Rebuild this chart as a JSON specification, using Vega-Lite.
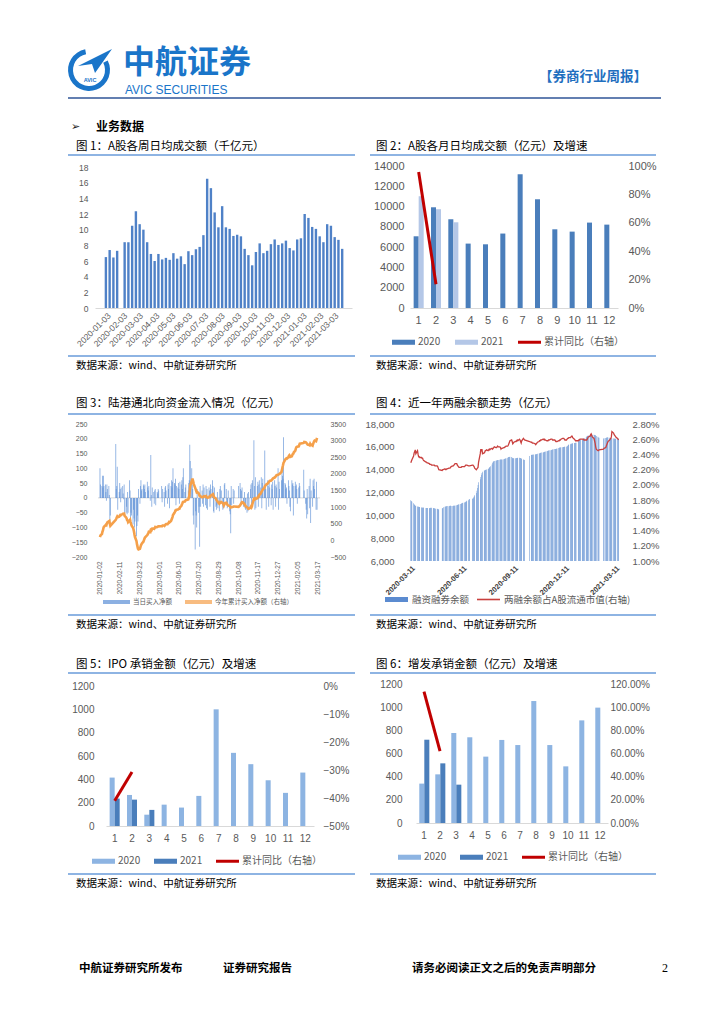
{
"$schema":"https://vega.github.io/schema/vega-lite/v6.json",
"width":724,"height":1024,"autosize":{"type":"none"},"padding":0,"background":"white",
"config":{"view":{"stroke":null},"axis":{"grid":false,"ticks":false,"domain":false,"labelColor":"#595959","labelFont":"Liberation Sans"},"legend":{"padding":0,"symbolStrokeWidth":0,"labelFont":"Noto Sans CJK SC","labelColor":"#595959","orient":"none","direction":"horizontal"},"text":{"font":"Noto Sans CJK SC"}},
"datasets":{
"c1":[{"d":"2020-01-03","v":6.5},{"d":"2020-01-10","v":7.4},{"d":"2020-01-17","v":6.45},{"d":"2020-01-24","v":7.3},{"d":"2020-02-07","v":8.4},{"d":"2020-02-14","v":8.4},{"d":"2020-02-21","v":10.5},{"d":"2020-02-28","v":12.35},{"d":"2020-03-06","v":10.7},{"d":"2020-03-13","v":10.0},{"d":"2020-03-20","v":8.4},{"d":"2020-03-27","v":6.9},{"d":"2020-04-03","v":6.0},{"d":"2020-04-10","v":6.9},{"d":"2020-04-17","v":6.2},{"d":"2020-04-24","v":6.4},{"d":"2020-05-01","v":6.15},{"d":"2020-05-08","v":7.0},{"d":"2020-05-15","v":6.3},{"d":"2020-05-22","v":6.6},{"d":"2020-05-29","v":5.6},{"d":"2020-06-05","v":7.25},{"d":"2020-06-12","v":6.75},{"d":"2020-06-19","v":7.5},{"d":"2020-06-26","v":7.8},{"d":"2020-07-03","v":9.3},{"d":"2020-07-10","v":16.5},{"d":"2020-07-17","v":15.3},{"d":"2020-07-24","v":12.2},{"d":"2020-07-31","v":10.3},{"d":"2020-08-07","v":13.0},{"d":"2020-08-14","v":10.3},{"d":"2020-08-21","v":10.1},{"d":"2020-08-28","v":9.2},{"d":"2020-09-04","v":9.35},{"d":"2020-09-11","v":9.15},{"d":"2020-09-18","v":7.55},{"d":"2020-09-25","v":6.75},{"d":"2020-10-02","v":5.45},{"d":"2020-10-09","v":7.15},{"d":"2020-10-16","v":8.25},{"d":"2020-10-23","v":7.0},{"d":"2020-10-30","v":7.3},{"d":"2020-11-06","v":8.15},{"d":"2020-11-13","v":8.75},{"d":"2020-11-20","v":8.05},{"d":"2020-11-27","v":8.25},{"d":"2020-12-04","v":8.6},{"d":"2020-12-11","v":7.65},{"d":"2020-12-18","v":7.35},{"d":"2020-12-25","v":8.75},{"d":"2021-01-01","v":8.9},{"d":"2021-01-08","v":12.0},{"d":"2021-01-15","v":11.5},{"d":"2021-01-22","v":10.35},{"d":"2021-01-29","v":10.1},{"d":"2021-02-05","v":9.15},{"d":"2021-02-12","v":8.4},{"d":"2021-02-19","v":10.7},{"d":"2021-02-26","v":10.5},{"d":"2021-03-05","v":9.05},{"d":"2021-03-12","v":8.7},{"d":"2021-03-19","v":7.55}],
"c2":[{"m":1,"yr":"2020","v":7070},{"m":2,"yr":"2020","v":9930},{"m":3,"yr":"2020","v":8750},{"m":4,"yr":"2020","v":6350},{"m":5,"yr":"2020","v":6280},{"m":6,"yr":"2020","v":7340},{"m":7,"yr":"2020","v":13190},{"m":8,"yr":"2020","v":10720},{"m":9,"yr":"2020","v":7760},{"m":10,"yr":"2020","v":7530},{"m":11,"yr":"2020","v":8420},{"m":12,"yr":"2020","v":8220},{"m":1,"yr":"2021","v":11020},{"m":2,"yr":"2021","v":9740},{"m":3,"yr":"2021","v":8450}],
"c2l":[{"m":1,"v":0.958},{"m":2,"v":0.167}],
"c5":[{"m":1,"yr":"2020","v":415},{"m":2,"yr":"2020","v":266},{"m":3,"yr":"2020","v":97},{"m":4,"yr":"2020","v":183},{"m":5,"yr":"2020","v":158},{"m":6,"yr":"2020","v":258},{"m":7,"yr":"2020","v":1000},{"m":8,"yr":"2020","v":627},{"m":9,"yr":"2020","v":530},{"m":10,"yr":"2020","v":392},{"m":11,"yr":"2020","v":284},{"m":12,"yr":"2020","v":458},{"m":1,"yr":"2021","v":235},{"m":2,"yr":"2021","v":226},{"m":3,"yr":"2021","v":138}],
"c5l":[{"m":1,"v":-0.41},{"m":2,"v":-0.307}],
"c6":[{"m":1,"yr":"2020","v":340},{"m":2,"yr":"2020","v":420},{"m":3,"yr":"2020","v":777},{"m":4,"yr":"2020","v":740},{"m":5,"yr":"2020","v":573},{"m":6,"yr":"2020","v":717},{"m":7,"yr":"2020","v":673},{"m":8,"yr":"2020","v":1053},{"m":9,"yr":"2020","v":673},{"m":10,"yr":"2020","v":489},{"m":11,"yr":"2020","v":886},{"m":12,"yr":"2020","v":996},{"m":1,"yr":"2021","v":719},{"m":2,"yr":"2021","v":515},{"m":3,"yr":"2021","v":331}],
"c6l":[{"m":1,"v":1.134},{"m":2,"v":0.62}],
"c3":[{"d":"2020-01-02","v":100,"c":100},{"d":"2020-01-03","v":45,"c":150},{"d":"2020-01-06","v":40,"c":190},{"d":"2020-01-07","v":75,"c":260},{"d":"2020-01-08","v":35,"c":300},{"d":"2020-01-09","v":75,"c":370},{"d":"2020-01-10","v":40,"c":410},{"d":"2020-01-13","v":45,"c":450},{"d":"2020-01-14","v":20,"c":470},{"d":"2020-01-15","v":-10,"c":460},{"d":"2020-01-16","v":45,"c":510},{"d":"2020-01-17","v":30,"c":540},{"d":"2020-01-20","v":40,"c":575},{"d":"2020-01-21","v":10,"c":585},{"d":"2020-01-22","v":-80,"c":500},{"d":"2020-01-23","v":-60,"c":440},
{"d":"2020-02-03","v":182,"c":620},{"d":"2020-02-04","v":30,"c":650},{"d":"2020-02-05","v":40,"c":690},{"d":"2020-02-06","v":105,"c":720},{"d":"2020-02-07","v":-40,"c":700},{"d":"2020-02-10","v":20,"c":715},{"d":"2020-02-11","v":50,"c":740},{"d":"2020-02-12","v":30,"c":760},{"d":"2020-02-13","v":-15,"c":755},{"d":"2020-02-14","v":35,"c":775},{"d":"2020-02-17","v":40,"c":790},{"d":"2020-02-18","v":15,"c":800},{"d":"2020-02-19","v":-5,"c":795},{"d":"2020-02-20","v":45,"c":800},{"d":"2020-02-21","v":-60,"c":740},{"d":"2020-02-24","v":-50,"c":690},{"d":"2020-02-25","v":-30,"c":660},{"d":"2020-02-26","v":-55,"c":610},{"d":"2020-02-27","v":20,"c":600},{"d":"2020-02-28","v":-50,"c":550},
{"d":"2020-03-02","v":60,"c":600},{"d":"2020-03-03","v":25,"c":620},{"d":"2020-03-04","v":-70,"c":550},{"d":"2020-03-05","v":-50,"c":500},{"d":"2020-03-06","v":-60,"c":450},{"d":"2020-03-09","v":-90,"c":380},{"d":"2020-03-10","v":-40,"c":330},{"d":"2020-03-11","v":-70,"c":260},{"d":"2020-03-12","v":-100,"c":170},{"d":"2020-03-13","v":-80,"c":100},{"d":"2020-03-16","v":-130,"c":-20},{"d":"2020-03-17","v":-95,"c":-120},{"d":"2020-03-18","v":-60,"c":-180},{"d":"2020-03-19","v":-80,"c":-250},{"d":"2020-03-20","v":30,"c":-270},{"d":"2020-03-23","v":-20,"c":-250},{"d":"2020-03-24","v":40,"c":-200},{"d":"2020-03-25","v":60,"c":-150},{"d":"2020-03-26","v":25,"c":-120},{"d":"2020-03-27","v":30,"c":-90},{"d":"2020-03-30","v":45,"c":-40},{"d":"2020-03-31","v":40,"c":0},
{"d":"2020-04-01","v":30,"c":40},{"d":"2020-04-02","v":45,"c":80},{"d":"2020-04-03","v":20,"c":100},{"d":"2020-04-07","v":55,"c":160},{"d":"2020-04-08","v":35,"c":190},{"d":"2020-04-09","v":25,"c":220},{"d":"2020-04-10","v":40,"c":260},{"d":"2020-04-13","v":-10,"c":250},{"d":"2020-04-14","v":145,"c":330},{"d":"2020-04-15","v":10,"c":340},{"d":"2020-04-16","v":-30,"c":320},{"d":"2020-04-17","v":35,"c":350},{"d":"2020-04-20","v":20,"c":360},{"d":"2020-04-21","v":-20,"c":350},{"d":"2020-04-22","v":25,"c":370},{"d":"2020-04-23","v":30,"c":400},{"d":"2020-04-24","v":-25,"c":390},{"d":"2020-04-27","v":20,"c":400},{"d":"2020-04-28","v":15,"c":410},{"d":"2020-04-29","v":30,"c":420},{"d":"2020-04-30","v":25,"c":420},
{"d":"2020-05-06","v":40,"c":430},{"d":"2020-05-07","v":-15,"c":430},{"d":"2020-05-08","v":30,"c":450},{"d":"2020-05-11","v":20,"c":455},{"d":"2020-05-12","v":-30,"c":440},{"d":"2020-05-13","v":35,"c":460},{"d":"2020-05-14","v":40,"c":480},{"d":"2020-05-15","v":25,"c":490},{"d":"2020-05-18","v":-20,"c":490},{"d":"2020-05-19","v":45,"c":510},{"d":"2020-05-20","v":30,"c":520},{"d":"2020-05-21","v":50,"c":550},{"d":"2020-05-22","v":-35,"c":540},{"d":"2020-05-25","v":40,"c":580},{"d":"2020-05-26","v":60,"c":620},{"d":"2020-05-27","v":35,"c":660},{"d":"2020-05-28","v":55,"c":700},{"d":"2020-05-29","v":100,"c":760},
{"d":"2020-06-01","v":50,"c":830},{"d":"2020-06-02","v":45,"c":860},{"d":"2020-06-03","v":65,"c":900},{"d":"2020-06-04","v":-25,"c":900},{"d":"2020-06-05","v":40,"c":920},{"d":"2020-06-08","v":35,"c":930},{"d":"2020-06-09","v":50,"c":940},{"d":"2020-06-10","v":30,"c":950},{"d":"2020-06-11","v":-20,"c":950},{"d":"2020-06-12","v":55,"c":990},{"d":"2020-06-15","v":45,"c":1040},{"d":"2020-06-16","v":60,"c":1080},{"d":"2020-06-17","v":30,"c":1110},{"d":"2020-06-18","v":70,"c":1150},{"d":"2020-06-19","v":100,"c":1160},{"d":"2020-06-22","v":20,"c":1170},{"d":"2020-06-23","v":35,"c":1190},{"d":"2020-06-24","v":45,"c":1210},{"d":"2020-06-29","v":25,"c":1230},{"d":"2020-06-30","v":50,"c":1280},
{"d":"2020-07-01","v":60,"c":1330},{"d":"2020-07-02","v":180,"c":1500},{"d":"2020-07-03","v":125,"c":1640},{"d":"2020-07-06","v":100,"c":1780},{"d":"2020-07-07","v":45,"c":1830},{"d":"2020-07-08","v":30,"c":1830},{"d":"2020-07-09","v":-60,"c":1770},{"d":"2020-07-10","v":-90,"c":1700},{"d":"2020-07-13","v":-175,"c":1580},{"d":"2020-07-14","v":-45,"c":1540},{"d":"2020-07-15","v":-60,"c":1490},{"d":"2020-07-16","v":-100,"c":1450},{"d":"2020-07-17","v":30,"c":1460},{"d":"2020-07-20","v":-50,"c":1420},{"d":"2020-07-21","v":-30,"c":1380},{"d":"2020-07-22","v":-165,"c":1340},{"d":"2020-07-23","v":40,"c":1330},{"d":"2020-07-24","v":-30,"c":1320},{"d":"2020-07-27","v":25,"c":1300},{"d":"2020-07-28","v":-20,"c":1300},{"d":"2020-07-29","v":45,"c":1310},{"d":"2020-07-30","v":-30,"c":1320},{"d":"2020-07-31","v":35,"c":1330},
{"d":"2020-08-03","v":-25,"c":1320},{"d":"2020-08-04","v":40,"c":1330},{"d":"2020-08-05","v":-35,"c":1300},{"d":"2020-08-06","v":30,"c":1290},{"d":"2020-08-07","v":-40,"c":1280},{"d":"2020-08-10","v":35,"c":1300},{"d":"2020-08-11","v":25,"c":1320},{"d":"2020-08-12","v":-30,"c":1310},{"d":"2020-08-13","v":45,"c":1330},{"d":"2020-08-14","v":30,"c":1350},{"d":"2020-08-17","v":60,"c":1380},{"d":"2020-08-18","v":40,"c":1390},{"d":"2020-08-19","v":-45,"c":1350},{"d":"2020-08-20","v":-50,"c":1300},{"d":"2020-08-21","v":35,"c":1290},{"d":"2020-08-24","v":-30,"c":1260},{"d":"2020-08-25","v":-40,"c":1220},{"d":"2020-08-26","v":-25,"c":1200},{"d":"2020-08-27","v":20,"c":1180},{"d":"2020-08-28","v":-35,"c":1150},{"d":"2020-08-31","v":-45,"c":1100},
{"d":"2020-09-01","v":30,"c":1120},{"d":"2020-09-02","v":40,"c":1150},{"d":"2020-09-03","v":-20,"c":1140},{"d":"2020-09-04","v":25,"c":1150},{"d":"2020-09-07","v":-40,"c":1120},{"d":"2020-09-08","v":-30,"c":1090},{"d":"2020-09-09","v":-35,"c":1050},{"d":"2020-09-10","v":45,"c":1080},{"d":"2020-09-11","v":50,"c":1120},{"d":"2020-09-14","v":30,"c":1130},{"d":"2020-09-15","v":-20,"c":1110},{"d":"2020-09-16","v":-35,"c":1080},{"d":"2020-09-17","v":-30,"c":1060},{"d":"2020-09-18","v":25,"c":1050},{"d":"2020-09-21","v":-45,"c":1030},{"d":"2020-09-22","v":-55,"c":1010},{"d":"2020-09-23","v":-120,"c":990},{"d":"2020-09-24","v":40,"c":1000},{"d":"2020-09-25","v":-25,"c":1000},{"d":"2020-09-28","v":30,"c":1010},{"d":"2020-09-29","v":-20,"c":1020},{"d":"2020-09-30","v":25,"c":1020},
{"d":"2020-10-09","v":40,"c":1010},{"d":"2020-10-12","v":50,"c":1050},{"d":"2020-10-13","v":30,"c":1080},{"d":"2020-10-14","v":-20,"c":1100},{"d":"2020-10-15","v":25,"c":1130},{"d":"2020-10-16","v":35,"c":1150},{"d":"2020-10-19","v":-30,"c":1130},{"d":"2020-10-20","v":-20,"c":1100},{"d":"2020-10-21","v":20,"c":1090},{"d":"2020-10-22","v":-35,"c":1060},{"d":"2020-10-23","v":-40,"c":1030},{"d":"2020-10-26","v":-50,"c":1000},{"d":"2020-10-27","v":15,"c":980},{"d":"2020-10-28","v":-45,"c":960},{"d":"2020-10-29","v":20,"c":950},{"d":"2020-10-30","v":-40,"c":960},
{"d":"2020-11-02","v":30,"c":980},{"d":"2020-11-03","v":45,"c":1010},{"d":"2020-11-04","v":-30,"c":990},{"d":"2020-11-05","v":50,"c":1020},{"d":"2020-11-06","v":60,"c":1100},{"d":"2020-11-09","v":195,"c":1250},{"d":"2020-11-10","v":40,"c":1260},{"d":"2020-11-11","v":-40,"c":1240},{"d":"2020-11-12","v":70,"c":1260},{"d":"2020-11-13","v":-35,"c":1250},{"d":"2020-11-16","v":40,"c":1270},{"d":"2020-11-17","v":55,"c":1300},{"d":"2020-11-18","v":-30,"c":1300},{"d":"2020-11-19","v":45,"c":1330},{"d":"2020-11-20","v":60,"c":1370},{"d":"2020-11-23","v":35,"c":1410},{"d":"2020-11-24","v":70,"c":1450},{"d":"2020-11-25","v":-35,"c":1470},{"d":"2020-11-26","v":50,"c":1500},{"d":"2020-11-27","v":65,"c":1530},{"d":"2020-11-30","v":30,"c":1570},
{"d":"2020-12-01","v":160,"c":1620},{"d":"2020-12-02","v":45,"c":1640},{"d":"2020-12-03","v":30,"c":1660},{"d":"2020-12-04","v":-40,"c":1680},{"d":"2020-12-07","v":60,"c":1710},{"d":"2020-12-08","v":40,"c":1730},{"d":"2020-12-09","v":-30,"c":1750},{"d":"2020-12-10","v":50,"c":1770},{"d":"2020-12-11","v":35,"c":1790},{"d":"2020-12-14","v":-25,"c":1800},{"d":"2020-12-15","v":45,"c":1820},{"d":"2020-12-16","v":30,"c":1830},{"d":"2020-12-17","v":55,"c":1850},{"d":"2020-12-18","v":-40,"c":1870},{"d":"2020-12-21","v":60,"c":1890},{"d":"2020-12-22","v":40,"c":1900},{"d":"2020-12-23","v":-30,"c":1920},{"d":"2020-12-24","v":45,"c":1940},{"d":"2020-12-25","v":35,"c":1960},{"d":"2020-12-28","v":100,"c":1970},{"d":"2020-12-29","v":-40,"c":1980},{"d":"2020-12-30","v":55,"c":1990},{"d":"2020-12-31","v":30,"c":2000},
{"d":"2021-01-04","v":60,"c":2060},{"d":"2021-01-05","v":90,"c":2130},{"d":"2021-01-06","v":75,"c":2200},{"d":"2021-01-07","v":65,"c":2260},{"d":"2021-01-08","v":205,"c":2330},{"d":"2021-01-11","v":50,"c":2410},{"d":"2021-01-12","v":45,"c":2440},{"d":"2021-01-13","v":30,"c":2460},{"d":"2021-01-14","v":35,"c":2470},{"d":"2021-01-15","v":-20,"c":2460},{"d":"2021-01-18","v":60,"c":2500},{"d":"2021-01-19","v":40,"c":2540},{"d":"2021-01-20","v":25,"c":2560},{"d":"2021-01-21","v":-30,"c":2540},{"d":"2021-01-22","v":-45,"c":2510},{"d":"2021-01-25","v":60,"c":2530},{"d":"2021-01-26","v":45,"c":2570},{"d":"2021-01-27","v":50,"c":2600},{"d":"2021-01-28","v":-60,"c":2610},{"d":"2021-01-29","v":40,"c":2650},
{"d":"2021-02-01","v":55,"c":2700},{"d":"2021-02-02","v":40,"c":2760},{"d":"2021-02-03","v":45,"c":2800},{"d":"2021-02-04","v":30,"c":2810},{"d":"2021-02-05","v":-20,"c":2820},{"d":"2021-02-08","v":35,"c":2830},{"d":"2021-02-09","v":50,"c":2870},{"d":"2021-02-10","v":40,"c":2910},{"d":"2021-02-18","v":95,"c":2930},{"d":"2021-02-19","v":25,"c":2960},{"d":"2021-02-22","v":-20,"c":2950},{"d":"2021-02-23","v":-40,"c":2940},{"d":"2021-02-24","v":-70,"c":2920},{"d":"2021-02-25","v":30,"c":2900},{"d":"2021-02-26","v":-55,"c":2880},
{"d":"2021-03-01","v":40,"c":2870},{"d":"2021-03-02","v":-35,"c":2860},{"d":"2021-03-03","v":65,"c":2900},{"d":"2021-03-04","v":-85,"c":2870},{"d":"2021-03-05","v":25,"c":2880},{"d":"2021-03-08","v":-30,"c":2850},{"d":"2021-03-09","v":60,"c":2900},{"d":"2021-03-10","v":40,"c":2940},{"d":"2021-03-11","v":65,"c":2980},{"d":"2021-03-12","v":30,"c":3000},{"d":"2021-03-15","v":-40,"c":2980},{"d":"2021-03-16","v":55,"c":3030},{"d":"2021-03-17","v":-40,"c":3080}],
"c4":[{"d":"2020-03-11","b":11330,"r":0.0229},{"d":"2020-03-12","b":11250,"r":0.0231},{"d":"2020-03-13","b":11180,"r":0.0233},{"d":"2020-03-16","b":11050,"r":0.0238},{"d":"2020-03-17","b":10980,"r":0.0242},{"d":"2020-03-18","b":10900,"r":0.0244},{"d":"2020-03-19","b":10850,"r":0.0246},{"d":"2020-03-20","b":10830,"r":0.0241},{"d":"2020-03-23","b":10780,"r":0.0245},{"d":"2020-03-24","b":10760,"r":0.0240},{"d":"2020-03-25","b":10750,"r":0.0237},{"d":"2020-03-26","b":10740,"r":0.0237},{"d":"2020-03-27","b":10720,"r":0.0236},{"d":"2020-03-30","b":10690,"r":0.0236},{"d":"2020-03-31","b":10680,"r":0.0235},
{"d":"2020-04-01","b":10670,"r":0.0235},{"d":"2020-04-02","b":10680,"r":0.0233},{"d":"2020-04-03","b":10660,"r":0.0232},{"d":"2020-04-07","b":10650,"r":0.0230},{"d":"2020-04-08","b":10640,"r":0.0230},{"d":"2020-04-09","b":10650,"r":0.0229},{"d":"2020-04-10","b":10640,"r":0.0229},{"d":"2020-04-13","b":10630,"r":0.0228},{"d":"2020-04-14","b":10650,"r":0.0227},{"d":"2020-04-15","b":10660,"r":0.0227},{"d":"2020-04-16","b":10650,"r":0.0227},{"d":"2020-04-17","b":10660,"r":0.0226},{"d":"2020-04-20","b":10650,"r":0.0226},{"d":"2020-04-21","b":10630,"r":0.0226},{"d":"2020-04-22","b":10610,"r":0.0226},{"d":"2020-04-23","b":10600,"r":0.0225},{"d":"2020-04-24","b":10580,"r":0.0225},{"d":"2020-04-27","b":10570,"r":0.0225},{"d":"2020-04-28","b":10560,"r":0.0224},{"d":"2020-04-29","b":10540,"r":0.0222},{"d":"2020-04-30","b":10520,"r":0.0220},
{"d":"2020-05-06","b":10600,"r":0.0219},{"d":"2020-05-07","b":10650,"r":0.0220},{"d":"2020-05-08","b":10700,"r":0.0220},{"d":"2020-05-11","b":10750,"r":0.0221},{"d":"2020-05-12","b":10780,"r":0.0220},{"d":"2020-05-13","b":10800,"r":0.0220},{"d":"2020-05-14","b":10800,"r":0.0221},{"d":"2020-05-15","b":10810,"r":0.0221},{"d":"2020-05-18","b":10800,"r":0.0222},{"d":"2020-05-19","b":10820,"r":0.0222},{"d":"2020-05-20","b":10830,"r":0.0222},{"d":"2020-05-21","b":10830,"r":0.0223},{"d":"2020-05-22","b":10810,"r":0.0224},{"d":"2020-05-25","b":10820,"r":0.0225},{"d":"2020-05-26","b":10840,"r":0.0225},{"d":"2020-05-27","b":10850,"r":0.0226},{"d":"2020-05-28","b":10850,"r":0.0227},{"d":"2020-05-29","b":10860,"r":0.0228},
{"d":"2020-06-01","b":10880,"r":0.0228},{"d":"2020-06-02","b":10900,"r":0.0226},{"d":"2020-06-03","b":10920,"r":0.0225},{"d":"2020-06-04","b":10950,"r":0.0224},{"d":"2020-06-05","b":10970,"r":0.0223},{"d":"2020-06-08","b":10990,"r":0.0223},{"d":"2020-06-09","b":11020,"r":0.0223},{"d":"2020-06-10","b":11050,"r":0.0224},{"d":"2020-06-11","b":11080,"r":0.0224},{"d":"2020-06-12","b":11100,"r":0.0224},{"d":"2020-06-15","b":11120,"r":0.0224},{"d":"2020-06-16","b":11150,"r":0.0225},{"d":"2020-06-17","b":11180,"r":0.0226},{"d":"2020-06-18","b":11220,"r":0.0226},{"d":"2020-06-19","b":11270,"r":0.0226},{"d":"2020-06-22","b":11330,"r":0.0225},{"d":"2020-06-23","b":11380,"r":0.0225},{"d":"2020-06-24","b":11420,"r":0.0225},{"d":"2020-06-29","b":11450,"r":0.0226},{"d":"2020-06-30","b":11480,"r":0.0226},
{"d":"2020-07-01","b":11560,"r":0.0225},{"d":"2020-07-02","b":11640,"r":0.0224},{"d":"2020-07-03","b":11750,"r":0.0222},{"d":"2020-07-06","b":11950,"r":0.0220},{"d":"2020-07-07","b":12150,"r":0.0221},{"d":"2020-07-08","b":12400,"r":0.0222},{"d":"2020-07-09","b":12650,"r":0.0223},{"d":"2020-07-10","b":12900,"r":0.0230},{"d":"2020-07-13","b":13150,"r":0.0241},{"d":"2020-07-14","b":13350,"r":0.0247},{"d":"2020-07-15","b":13550,"r":0.0244},{"d":"2020-07-16","b":13700,"r":0.0247},{"d":"2020-07-17","b":13820,"r":0.0241},{"d":"2020-07-20","b":13900,"r":0.0242},{"d":"2020-07-21","b":13950,"r":0.0243},{"d":"2020-07-22","b":13980,"r":0.0245},{"d":"2020-07-23","b":14000,"r":0.0245},{"d":"2020-07-24","b":14020,"r":0.0246},{"d":"2020-07-27","b":14060,"r":0.0245},{"d":"2020-07-28","b":14100,"r":0.0246},{"d":"2020-07-29","b":14160,"r":0.0247},{"d":"2020-07-30","b":14230,"r":0.0246},{"d":"2020-07-31","b":14300,"r":0.0247},
{"d":"2020-08-03","b":14450,"r":0.0248},{"d":"2020-08-04","b":14600,"r":0.0247},{"d":"2020-08-05","b":14700,"r":0.0248},{"d":"2020-08-06","b":14730,"r":0.0249},{"d":"2020-08-07","b":14760,"r":0.0250},{"d":"2020-08-10","b":14780,"r":0.0249},{"d":"2020-08-11","b":14800,"r":0.0249},{"d":"2020-08-12","b":14820,"r":0.0250},{"d":"2020-08-13","b":14840,"r":0.0251},{"d":"2020-08-14","b":14850,"r":0.0250},{"d":"2020-08-17","b":14870,"r":0.0250},{"d":"2020-08-18","b":14880,"r":0.0249},{"d":"2020-08-19","b":14880,"r":0.0247},{"d":"2020-08-20","b":14900,"r":0.0248},{"d":"2020-08-21","b":14900,"r":0.0248},{"d":"2020-08-24","b":14920,"r":0.0249},{"d":"2020-08-25","b":14930,"r":0.0249},{"d":"2020-08-26","b":14950,"r":0.0250},{"d":"2020-08-27","b":14980,"r":0.0250},{"d":"2020-08-28","b":15000,"r":0.0251},{"d":"2020-08-31","b":15050,"r":0.0251},
{"d":"2020-09-01","b":15080,"r":0.0252},{"d":"2020-09-02","b":15100,"r":0.0254},{"d":"2020-09-03","b":15120,"r":0.0256},{"d":"2020-09-04","b":15130,"r":0.0258},{"d":"2020-09-07","b":15100,"r":0.0259},{"d":"2020-09-08","b":15050,"r":0.0257},{"d":"2020-09-09","b":15000,"r":0.0254},{"d":"2020-09-10","b":14990,"r":0.0255},{"d":"2020-09-11","b":14990,"r":0.0256},{"d":"2020-09-14","b":15000,"r":0.0257},{"d":"2020-09-15","b":15010,"r":0.0257},{"d":"2020-09-16","b":15020,"r":0.0258},{"d":"2020-09-17","b":15030,"r":0.0259},{"d":"2020-09-18","b":15040,"r":0.0258},{"d":"2020-09-21","b":15040,"r":0.0260},{"d":"2020-09-22","b":15030,"r":0.0259},{"d":"2020-09-23","b":15020,"r":0.0257},{"d":"2020-09-24","b":14980,"r":0.0255},{"d":"2020-09-25","b":14950,"r":0.0258},{"d":"2020-09-28","b":14900,"r":0.0261},{"d":"2020-09-29","b":14870,"r":0.0260},{"d":"2020-09-30","b":14840,"r":0.0259},
{"d":"2020-10-09","b":15200,"r":0.0257},{"d":"2020-10-12","b":15280,"r":0.0256},{"d":"2020-10-13","b":15300,"r":0.0256},{"d":"2020-10-14","b":15300,"r":0.0255},{"d":"2020-10-15","b":15310,"r":0.0255},{"d":"2020-10-16","b":15320,"r":0.0255},{"d":"2020-10-19","b":15330,"r":0.0254},{"d":"2020-10-20","b":15340,"r":0.0253},{"d":"2020-10-21","b":15360,"r":0.0254},{"d":"2020-10-22","b":15380,"r":0.0255},{"d":"2020-10-23","b":15400,"r":0.0256},{"d":"2020-10-26","b":15420,"r":0.0257},{"d":"2020-10-27","b":15440,"r":0.0258},{"d":"2020-10-28","b":15460,"r":0.0258},{"d":"2020-10-29","b":15480,"r":0.0259},{"d":"2020-10-30","b":15500,"r":0.0259},
{"d":"2020-11-02","b":15510,"r":0.0260},{"d":"2020-11-03","b":15530,"r":0.0260},{"d":"2020-11-04","b":15550,"r":0.0259},{"d":"2020-11-05","b":15570,"r":0.0260},{"d":"2020-11-06","b":15590,"r":0.0259},{"d":"2020-11-09","b":15610,"r":0.0258},{"d":"2020-11-10","b":15630,"r":0.0258},{"d":"2020-11-11","b":15650,"r":0.0258},{"d":"2020-11-12","b":15670,"r":0.0259},{"d":"2020-11-13","b":15690,"r":0.0259},{"d":"2020-11-16","b":15700,"r":0.0260},{"d":"2020-11-17","b":15720,"r":0.0260},{"d":"2020-11-18","b":15740,"r":0.0260},{"d":"2020-11-19","b":15760,"r":0.0259},{"d":"2020-11-20","b":15780,"r":0.0259},{"d":"2020-11-23","b":15800,"r":0.0259},{"d":"2020-11-24","b":15810,"r":0.0258},{"d":"2020-11-25","b":15820,"r":0.0257},{"d":"2020-11-26","b":15830,"r":0.0257},{"d":"2020-11-27","b":15850,"r":0.0257},{"d":"2020-11-30","b":15900,"r":0.0258},
{"d":"2020-12-01","b":15920,"r":0.0258},{"d":"2020-12-02","b":15940,"r":0.0259},{"d":"2020-12-03","b":15950,"r":0.0259},{"d":"2020-12-04","b":15960,"r":0.0260},{"d":"2020-12-07","b":15970,"r":0.0261},{"d":"2020-12-08","b":15980,"r":0.0261},{"d":"2020-12-09","b":15990,"r":0.0261},{"d":"2020-12-10","b":16000,"r":0.0260},{"d":"2020-12-11","b":16000,"r":0.0259},{"d":"2020-12-14","b":16010,"r":0.0259},{"d":"2020-12-15","b":16050,"r":0.0260},{"d":"2020-12-16","b":16100,"r":0.0261},{"d":"2020-12-17","b":16160,"r":0.0261},{"d":"2020-12-18","b":16200,"r":0.0262},{"d":"2020-12-21","b":16230,"r":0.0262},{"d":"2020-12-22","b":16260,"r":0.0263},{"d":"2020-12-23","b":16280,"r":0.0264},{"d":"2020-12-24","b":16300,"r":0.0264},{"d":"2020-12-25","b":16310,"r":0.0262},{"d":"2020-12-28","b":16330,"r":0.0260},{"d":"2020-12-29","b":16340,"r":0.0259},{"d":"2020-12-30","b":16350,"r":0.0258},{"d":"2020-12-31","b":16360,"r":0.0258},
{"d":"2021-01-04","b":16500,"r":0.0258},{"d":"2021-01-05","b":16540,"r":0.0259},{"d":"2021-01-06","b":16580,"r":0.0259},{"d":"2021-01-07","b":16620,"r":0.0260},{"d":"2021-01-08","b":16650,"r":0.0260},{"d":"2021-01-11","b":16670,"r":0.0260},{"d":"2021-01-12","b":16690,"r":0.0260},{"d":"2021-01-13","b":16710,"r":0.0260},{"d":"2021-01-14","b":16730,"r":0.0259},{"d":"2021-01-15","b":16750,"r":0.0259},{"d":"2021-01-18","b":16850,"r":0.0259},{"d":"2021-01-19","b":16900,"r":0.0259},{"d":"2021-01-20","b":16940,"r":0.0260},{"d":"2021-01-21","b":16980,"r":0.0262},{"d":"2021-01-22","b":17000,"r":0.0263},{"d":"2021-01-25","b":17030,"r":0.0264},{"d":"2021-01-26","b":17060,"r":0.0266},{"d":"2021-01-27","b":17090,"r":0.0267},{"d":"2021-01-28","b":17080,"r":0.0265},{"d":"2021-01-29","b":17060,"r":0.0263},
{"d":"2021-02-01","b":17050,"r":0.0261},{"d":"2021-02-02","b":17040,"r":0.0258},{"d":"2021-02-03","b":17030,"r":0.0255},{"d":"2021-02-04","b":17000,"r":0.0250},{"d":"2021-02-05","b":16950,"r":0.0247},{"d":"2021-02-08","b":16880,"r":0.0245},{"d":"2021-02-09","b":16820,"r":0.0245},{"d":"2021-02-10","b":16800,"r":0.0246},{"d":"2021-02-18","b":16740,"r":0.0247},{"d":"2021-02-19","b":16760,"r":0.0248},{"d":"2021-02-22","b":16780,"r":0.0249},{"d":"2021-02-23","b":16800,"r":0.0251},{"d":"2021-02-24","b":16820,"r":0.0253},{"d":"2021-02-25","b":16830,"r":0.0255},{"d":"2021-02-26","b":16810,"r":0.0257},
{"d":"2021-03-01","b":16790,"r":0.0259},{"d":"2021-03-02","b":16770,"r":0.0260},{"d":"2021-03-03","b":16760,"r":0.0261},{"d":"2021-03-04","b":16750,"r":0.0263},{"d":"2021-03-05","b":16740,"r":0.0270},{"d":"2021-03-08","b":16730,"r":0.0268},{"d":"2021-03-09","b":16720,"r":0.0266},{"d":"2021-03-10","b":16710,"r":0.0265},{"d":"2021-03-11","b":16700,"r":0.0264},{"d":"2021-03-12","b":16700,"r":0.0263},{"d":"2021-03-15","b":16690,"r":0.0261},{"d":"2021-03-16","b":16690,"r":0.0260},{"d":"2021-03-17","b":16700,"r":0.0259}]
},
"layer":[
{"data":{"values":[{}]},
 "layer":[
  {"mark":{"type":"arc","radius":21,"radius2":16,"theta":1.1,"theta2":6.1,"color":"#1a75c9"},"encoding":{"x":{"datum":89,"scale":{"domain":[0,724],"range":[0,724],"nice":false,"zero":false},"axis":null},"y":{"datum":70,"scale":{"domain":[0,1024],"range":[0,1024],"nice":false,"zero":false},"axis":null}}},
  {"mark":{"type":"point","shape":"M17,-12L-17,5L-3,3ZM17,-12L-3,3L0,12Z","size":4,"filled":true,"color":"#1a75c9","opacity":1},"encoding":{"x":{"datum":95,"axis":null},"y":{"datum":61,"axis":null}}},
  {"mark":{"type":"text","align":"center","baseline":"middle","fontSize":5.5,"fontWeight":"bold","color":"#1a75c9","font":"Liberation Sans"},"encoding":{"x":{"datum":90,"axis":null},"y":{"datum":80,"axis":null},"text":{"value":"AVIC"}}},
  {"mark":{"type":"text","align":"left","baseline":"middle","fontSize":32,"fontWeight":"bold","color":"#1a75c9"},"encoding":{"x":{"datum":123,"axis":null},"y":{"datum":63,"axis":null},"text":{"value":"中航证券"}}},
  {"mark":{"type":"text","align":"left","baseline":"middle","fontSize":12,"color":"#1a75c9","font":"Liberation Sans"},"encoding":{"x":{"datum":125,"axis":null},"y":{"datum":90,"axis":null},"text":{"value":"AVIC  SECURITIES"}}},
  {"mark":{"type":"text","align":"left","baseline":"middle","fontSize":13.5,"fontWeight":"bold","color":"#1f6fbf"},"encoding":{"x":{"datum":539,"axis":null},"y":{"datum":77,"axis":null},"text":{"value":"【券商行业周报】"}}},
  {"mark":{"type":"rule","color":"#2f5597","strokeWidth":1.5},"encoding":{"x":{"datum":68,"axis":null},"x2":{"datum":661},"y":{"datum":98,"axis":null}}},
  {"mark":{"type":"text","align":"left","baseline":"middle","fontSize":11,"color":"#222222","font":"DejaVu Sans"},"encoding":{"x":{"datum":71,"axis":null},"y":{"datum":127,"axis":null},"text":{"value":"➢"}}},
  {"mark":{"type":"text","align":"left","baseline":"middle","fontSize":12,"fontWeight":"bold","color":"#000000"},"encoding":{"x":{"datum":96,"axis":null},"y":{"datum":127,"axis":null},"text":{"value":"业务数据"}}},
  {"mark":{"type":"text","align":"left","baseline":"middle","fontSize":11.5,"color":"#000000"},"encoding":{"x":{"datum":76,"axis":null},"y":{"datum":147,"axis":null},"text":{"value":"图 1：A股各周日均成交额（千亿元）"}}},
  {"mark":{"type":"text","align":"left","baseline":"middle","fontSize":11.5,"color":"#000000"},"encoding":{"x":{"datum":376,"axis":null},"y":{"datum":147,"axis":null},"text":{"value":"图 2：A股各月日均成交额（亿元）及增速"}}},
  {"mark":{"type":"text","align":"left","baseline":"middle","fontSize":11.5,"color":"#000000"},"encoding":{"x":{"datum":76,"axis":null},"y":{"datum":404,"axis":null},"text":{"value":"图 3：陆港通北向资金流入情况（亿元）"}}},
  {"mark":{"type":"text","align":"left","baseline":"middle","fontSize":11.5,"color":"#000000"},"encoding":{"x":{"datum":376,"axis":null},"y":{"datum":404,"axis":null},"text":{"value":"图 4：近一年两融余额走势（亿元）"}}},
  {"mark":{"type":"text","align":"left","baseline":"middle","fontSize":11.5,"color":"#000000"},"encoding":{"x":{"datum":76,"axis":null},"y":{"datum":665,"axis":null},"text":{"value":"图 5：IPO 承销金额（亿元）及增速"}}},
  {"mark":{"type":"text","align":"left","baseline":"middle","fontSize":11.5,"color":"#000000"},"encoding":{"x":{"datum":376,"axis":null},"y":{"datum":665,"axis":null},"text":{"value":"图 6：增发承销金额（亿元）及增速"}}},
  {"mark":{"type":"rule","color":"#8eb4e3","strokeWidth":1.8},"encoding":{"x":{"datum":68,"axis":null},"x2":{"datum":355},"y":{"datum":155,"axis":null}}},
  {"mark":{"type":"rule","color":"#8eb4e3","strokeWidth":1.8},"encoding":{"x":{"datum":370,"axis":null},"x2":{"datum":656},"y":{"datum":155,"axis":null}}},
  {"mark":{"type":"rule","color":"#8eb4e3","strokeWidth":1.8},"encoding":{"x":{"datum":68,"axis":null},"x2":{"datum":355},"y":{"datum":414,"axis":null}}},
  {"mark":{"type":"rule","color":"#8eb4e3","strokeWidth":1.8},"encoding":{"x":{"datum":370,"axis":null},"x2":{"datum":656},"y":{"datum":414,"axis":null}}},
  {"mark":{"type":"rule","color":"#8eb4e3","strokeWidth":1.8},"encoding":{"x":{"datum":68,"axis":null},"x2":{"datum":355},"y":{"datum":673,"axis":null}}},
  {"mark":{"type":"rule","color":"#8eb4e3","strokeWidth":1.8},"encoding":{"x":{"datum":370,"axis":null},"x2":{"datum":656},"y":{"datum":673,"axis":null}}},
  {"mark":{"type":"rule","color":"#8eb4e3","strokeWidth":1.8},"encoding":{"x":{"datum":68,"axis":null},"x2":{"datum":355},"y":{"datum":356,"axis":null}}},
  {"mark":{"type":"rule","color":"#8eb4e3","strokeWidth":1.8},"encoding":{"x":{"datum":370,"axis":null},"x2":{"datum":656},"y":{"datum":356,"axis":null}}},
  {"mark":{"type":"rule","color":"#8eb4e3","strokeWidth":1.8},"encoding":{"x":{"datum":68,"axis":null},"x2":{"datum":355},"y":{"datum":615,"axis":null}}},
  {"mark":{"type":"rule","color":"#8eb4e3","strokeWidth":1.8},"encoding":{"x":{"datum":370,"axis":null},"x2":{"datum":656},"y":{"datum":615,"axis":null}}},
  {"mark":{"type":"rule","color":"#8eb4e3","strokeWidth":1.8},"encoding":{"x":{"datum":68,"axis":null},"x2":{"datum":355},"y":{"datum":874,"axis":null}}},
  {"mark":{"type":"rule","color":"#8eb4e3","strokeWidth":1.8},"encoding":{"x":{"datum":370,"axis":null},"x2":{"datum":656},"y":{"datum":874,"axis":null}}},
  {"mark":{"type":"text","align":"left","baseline":"middle","fontSize":10.5,"color":"#000000"},"encoding":{"x":{"datum":76,"axis":null},"y":{"datum":366,"axis":null},"text":{"value":"数据来源：wind、中航证券研究所"}}},
  {"mark":{"type":"text","align":"left","baseline":"middle","fontSize":10.5,"color":"#000000"},"encoding":{"x":{"datum":376,"axis":null},"y":{"datum":366,"axis":null},"text":{"value":"数据来源：wind、中航证券研究所"}}},
  {"mark":{"type":"text","align":"left","baseline":"middle","fontSize":10.5,"color":"#000000"},"encoding":{"x":{"datum":76,"axis":null},"y":{"datum":625,"axis":null},"text":{"value":"数据来源：wind、中航证券研究所"}}},
  {"mark":{"type":"text","align":"left","baseline":"middle","fontSize":10.5,"color":"#000000"},"encoding":{"x":{"datum":376,"axis":null},"y":{"datum":625,"axis":null},"text":{"value":"数据来源：wind、中航证券研究所"}}},
  {"mark":{"type":"text","align":"left","baseline":"middle","fontSize":10.5,"color":"#000000"},"encoding":{"x":{"datum":76,"axis":null},"y":{"datum":884,"axis":null},"text":{"value":"数据来源：wind、中航证券研究所"}}},
  {"mark":{"type":"text","align":"left","baseline":"middle","fontSize":10.5,"color":"#000000"},"encoding":{"x":{"datum":376,"axis":null},"y":{"datum":884,"axis":null},"text":{"value":"数据来源：wind、中航证券研究所"}}},
  {"mark":{"type":"text","align":"left","baseline":"middle","fontSize":11.5,"fontWeight":"bold","color":"#000000"},"encoding":{"x":{"datum":79,"axis":null},"y":{"datum":969,"axis":null},"text":{"value":"中航证券研究所发布"}}},
  {"mark":{"type":"text","align":"left","baseline":"middle","fontSize":11.5,"fontWeight":"bold","color":"#000000"},"encoding":{"x":{"datum":223,"axis":null},"y":{"datum":969,"axis":null},"text":{"value":"证券研究报告"}}},
  {"mark":{"type":"text","align":"left","baseline":"middle","fontSize":11.5,"fontWeight":"bold","color":"#000000"},"encoding":{"x":{"datum":412,"axis":null},"y":{"datum":969,"axis":null},"text":{"value":"请务必阅读正文之后的免责声明部分"}}},
  {"mark":{"type":"text","align":"left","baseline":"middle","fontSize":12,"color":"#000000","font":"Liberation Serif"},"encoding":{"x":{"datum":662,"axis":null},"y":{"datum":968,"axis":null},"text":{"value":"2"}}}
 ]},
{"data":{"name":"c1"},
 "mark":{"type":"bar","width":2.4,"color":"#4f81c7"},
 "encoding":{
  "x":{"field":"d","type":"temporal","scale":{"domain":[{"year":2019,"month":12,"date":23},{"year":2021,"month":3,"date":28}],"range":[95,352]},
   "axis":{"orient":"bottom","offset":-716,"title":null,"format":"%Y-%m-%d","labelAngle":-45,"labelFontSize":8.5,"labelPadding":3,"labelOverlap":false,"labelFlush":false,"domain":true,"domainColor":"#d9d9d9",
    "values":[{"year":2020,"month":1,"date":3},{"year":2020,"month":2,"date":3},{"year":2020,"month":3,"date":3},{"year":2020,"month":4,"date":3},{"year":2020,"month":5,"date":3},{"year":2020,"month":6,"date":3},{"year":2020,"month":7,"date":3},{"year":2020,"month":8,"date":3},{"year":2020,"month":9,"date":3},{"year":2020,"month":10,"date":3},{"year":2020,"month":11,"date":3},{"year":2020,"month":12,"date":3},{"year":2021,"month":1,"date":3},{"year":2021,"month":2,"date":3},{"year":2021,"month":3,"date":3}]}},
  "y":{"field":"v","type":"quantitative","scale":{"domain":[0,18],"range":[308,167],"nice":false},"axis":{"orient":"left","offset":-95,"title":null,"values":[0,2,4,6,8,10,12,14,16,18],"labelFontSize":8.5,"labelPadding":7}}
 }},
{"layer":[
  {"data":{"name":"c2"},"mark":{"type":"bar"},
   "encoding":{
    "x":{"field":"m","type":"ordinal","scale":{"range":[410,618],"paddingInner":0.42,"paddingOuter":0.21},"axis":{"orient":"bottom","offset":-716,"title":null,"labelAngle":0,"labelFontSize":11,"labelPadding":6,"domain":true,"domainColor":"#d9d9d9"}},
    "xOffset":{"field":"yr","type":"nominal","scale":{"paddingInner":0}},
    "y":{"field":"v","type":"quantitative","scale":{"domain":[0,14000],"range":[308,166],"nice":false},"axis":{"orient":"left","offset":-410,"title":null,"format":"d","values":[0,2000,4000,6000,8000,10000,12000,14000],"labelFontSize":11,"labelPadding":6}},
    "color":{"field":"yr","type":"nominal","scale":{"domain":["2020","2021","累计同比（右轴）"],"range":["#4a7ebb","#b4c7e7","#c00000"]},
     "legend":{"title":null,"legendX":392,"legendY":330.5,"symbolType":"M-1,-0.22H1V0.22H-1Z","symbolSize":529,"labelFontSize":10,"labelOffset":3,"columnPadding":14,
      "encode":{"symbols":{"update":{"shape":{"signal":"indexof(datum.value,'右轴')>=0 ? 'M-1,-0.13H1V0.13H-1Z' : 'M-1,-0.22H1V0.22H-1Z'"}}}}}}
   }},
  {"data":{"name":"c2l"},"mark":{"type":"line","strokeWidth":3},
   "encoding":{
    "x":{"field":"m","type":"ordinal"},
    "y":{"field":"v","type":"quantitative","scale":{"domain":[0,1],"range":[308,166],"nice":false},"axis":{"orient":"right","offset":-106,"title":null,"format":".0%","values":[0,0.2,0.4,0.6,0.8,1],"labelFontSize":11,"labelPadding":10}},
    "color":{"datum":"累计同比（右轴）"}
   }}
 ],
 "resolve":{"scale":{"y":"independent"}}},
{"layer":[
  {"data":{"values":[{}]},"mark":{"type":"rule","color":"#d9d9d9","strokeWidth":1},
   "encoding":{
    "x":{"datum":{"year":2019,"month":12,"date":29}},
    "x2":{"datum":{"year":2021,"month":3,"date":23}},
    "y":{"datum":0,"scale":{"domain":[-200,250],"range":[557,424],"nice":false},"axis":null}
   }},
  {"data":{"name":"c3"},"mark":{"type":"bar","width":0.9,"opacity":0.7},
   "encoding":{
    "x":{"field":"d","type":"temporal","scale":{"domain":[{"year":2019,"month":12,"date":29},{"year":2021,"month":3,"date":23}],"range":[93,325]},
     "axis":{"orient":"bottom","offset":-467,"title":null,"format":"%Y-%m-%d","labelAngle":-90,"labelFontSize":6.5,"labelPadding":4,"labelOverlap":false,"labelFlush":false,
      "values":[{"year":2020,"month":1,"date":2},{"year":2020,"month":1,"date":22},{"year":2020,"month":2,"date":11},{"year":2020,"month":3,"date":2},{"year":2020,"month":3,"date":22},{"year":2020,"month":4,"date":11},{"year":2020,"month":5,"date":1},{"year":2020,"month":5,"date":21},{"year":2020,"month":6,"date":10},{"year":2020,"month":6,"date":30},{"year":2020,"month":7,"date":20},{"year":2020,"month":8,"date":9},{"year":2020,"month":8,"date":29},{"year":2020,"month":9,"date":18},{"year":2020,"month":10,"date":8},{"year":2020,"month":10,"date":28},{"year":2020,"month":11,"date":17},{"year":2020,"month":12,"date":7},{"year":2020,"month":12,"date":27},{"year":2021,"month":1,"date":16},{"year":2021,"month":2,"date":5},{"year":2021,"month":2,"date":25},{"year":2021,"month":3,"date":17}]}},
    "y":{"field":"v","type":"quantitative","scale":{"domain":[-200,250],"range":[557,424],"nice":false},"axis":{"orient":"left","offset":-93,"title":null,"format":"d","values":[-200,-150,-100,-50,0,50,100,150,200,250],"labelFontSize":7,"labelPadding":6}},
    "color":{"datum":"当日买入净额","scale":{"domain":["当日买入净额","今年累计买入净额（右轴）"],"range":["#5b8fd6","#f5a04a"]},
     "legend":{"title":null,"legendX":103,"legendY":588.5,"symbolType":"M-1,-0.15H1V0.15H-1Z","symbolSize":729,"labelFontSize":6.5,"labelOffset":3,"columnPadding":13,
      "encode":{"symbols":{"update":{"shape":{"signal":"indexof(datum.value,'右轴')>=0 ? 'M-1,-0.09H1V0.09H-1Z' : 'M-1,-0.15H1V0.15H-1Z'"}}}}}}
   }},
  {"data":{"name":"c3"},"mark":{"type":"line","strokeWidth":2.6},
   "encoding":{
    "x":{"field":"d","type":"temporal"},
    "y":{"field":"c","type":"quantitative","scale":{"domain":[-500,3500],"range":[557,424],"nice":false},"axis":{"orient":"right","offset":-399,"title":null,"format":"d","values":[-500,0,500,1000,1500,2000,2500,3000,3500],"labelFontSize":7,"labelPadding":5}},
    "color":{"datum":"今年累计买入净额（右轴）"}
   }}
 ],
 "resolve":{"scale":{"y":"independent"}}},
{"layer":[
  {"data":{"name":"c4"},"mark":{"type":"bar","width":0.5},
   "encoding":{
    "x":{"field":"d","type":"temporal","scale":{"domain":[{"year":2020,"month":3,"date":6},{"year":2021,"month":3,"date":23}],"range":[403,627]},
     "axis":{"orient":"bottom","offset":-463,"title":null,"format":"%Y-%m-%d","labelAngle":-45,"labelFontSize":7.5,"labelFontWeight":"bold","labelColor":"#404040","labelPadding":3,"labelOverlap":false,"labelFlush":false,
      "values":[{"year":2020,"month":3,"date":11},{"year":2020,"month":6,"date":11},{"year":2020,"month":9,"date":11},{"year":2020,"month":12,"date":11},{"year":2021,"month":3,"date":11}]}},
    "y":{"field":"b","type":"quantitative","scale":{"domain":[6000,18000],"range":[561,424],"nice":false,"zero":false},"axis":{"orient":"left","offset":-403,"title":null,"format":",d","values":[6000,8000,10000,12000,14000,16000,18000],"labelFontSize":9.5,"labelPadding":9}},
    "y2":{"datum":6000},
    "color":{"datum":"融资融券余额","scale":{"domain":["融资融券余额","两融余额占A股流通市值(右轴)"],"range":["#5b8bd0","#c9403e"]},
     "legend":{"title":null,"legendX":385,"legendY":588,"symbolType":"M-1,-0.22H1V0.22H-1Z","symbolSize":529,"labelFontSize":9.5,"labelOffset":4,"columnPadding":7,
      "encode":{"symbols":{"update":{"shape":{"signal":"indexof(datum.value,'右轴')>=0 ? 'M-1,-0.07H1V0.07H-1Z' : 'M-1,-0.22H1V0.22H-1Z'"}}}}}}
   }},
  {"data":{"name":"c4"},"mark":{"type":"line","strokeWidth":1.3},
   "encoding":{
    "x":{"field":"d","type":"temporal"},
    "y":{"field":"r","type":"quantitative","scale":{"domain":[0.01,0.028],"range":[561,424],"nice":false,"zero":false},"axis":{"orient":"right","offset":-97,"title":null,"format":".2%","values":[0.01,0.012,0.014,0.016,0.018,0.02,0.022,0.024,0.026,0.028],"labelFontSize":9.5,"labelPadding":5}},
    "color":{"datum":"两融余额占A股流通市值(右轴)"}
   }}
 ],
 "resolve":{"scale":{"y":"independent"}}},
{"layer":[
  {"data":{"name":"c5"},"mark":{"type":"bar"},
   "encoding":{
    "x":{"field":"m","type":"ordinal","scale":{"range":[106,314],"paddingInner":0.42,"paddingOuter":0.21},"axis":{"orient":"bottom","offset":-198,"title":null,"labelAngle":0,"labelFontSize":10,"labelPadding":7,"domain":true,"domainColor":"#d9d9d9"}},
    "xOffset":{"field":"yr","type":"nominal","scale":{"paddingInner":0}},
    "y":{"field":"v","type":"quantitative","scale":{"domain":[0,1200],"range":[826,686],"nice":false},"axis":{"orient":"left","offset":-106,"title":null,"format":"d","values":[0,200,400,600,800,1000,1200],"labelFontSize":10,"labelPadding":12}},
    "color":{"field":"yr","type":"nominal","scale":{"domain":["2020","2021","累计同比（右轴）"],"range":["#8db4e2","#4a7ebb","#c00000"]},
     "legend":{"title":null,"legendX":92,"legendY":849.5,"symbolType":"M-1,-0.22H1V0.22H-1Z","symbolSize":529,"labelFontSize":10,"labelOffset":3,"columnPadding":13,
      "encode":{"symbols":{"update":{"shape":{"signal":"indexof(datum.value,'右轴')>=0 ? 'M-1,-0.13H1V0.13H-1Z' : 'M-1,-0.22H1V0.22H-1Z'"}}}}}}
   }},
  {"data":{"name":"c5l"},"mark":{"type":"line","strokeWidth":3},
   "encoding":{
    "x":{"field":"m","type":"ordinal"},
    "y":{"field":"v","type":"quantitative","scale":{"domain":[-0.5,0],"range":[826,686],"nice":false},"axis":{"orient":"right","offset":-410,"title":null,"format":".0%","values":[-0.5,-0.4,-0.3,-0.2,-0.1,0],"labelFontSize":10,"labelPadding":9}},
    "color":{"datum":"累计同比（右轴）"}
   }}
 ],
 "resolve":{"scale":{"y":"independent"}}},
{"layer":[
  {"data":{"name":"c6"},"mark":{"type":"bar"},
   "encoding":{
    "x":{"field":"m","type":"ordinal","scale":{"range":[416,608],"paddingInner":0.41,"paddingOuter":0.205},"axis":{"orient":"bottom","offset":-201,"title":null,"labelAngle":0,"labelFontSize":10,"labelPadding":7,"domain":true,"domainColor":"#d9d9d9"}},
    "xOffset":{"field":"yr","type":"nominal","scale":{"paddingInner":0}},
    "y":{"field":"v","type":"quantitative","scale":{"domain":[0,1200],"range":[823,684],"nice":false},"axis":{"orient":"left","offset":-416,"title":null,"format":"d","values":[0,200,400,600,800,1000,1200],"labelFontSize":10,"labelPadding":14}},
    "color":{"field":"yr","type":"nominal","scale":{"domain":["2020","2021","累计同比（右轴）"],"range":["#8db4e2","#4a7ebb","#c00000"]},
     "legend":{"title":null,"legendX":398,"legendY":845.5,"symbolType":"M-1,-0.22H1V0.22H-1Z","symbolSize":529,"labelFontSize":10,"labelOffset":3,"columnPadding":13,
      "encode":{"symbols":{"update":{"shape":{"signal":"indexof(datum.value,'右轴')>=0 ? 'M-1,-0.13H1V0.13H-1Z' : 'M-1,-0.22H1V0.22H-1Z'"}}}}}}
   }},
  {"data":{"name":"c6l"},"mark":{"type":"line","strokeWidth":3},
   "encoding":{
    "x":{"field":"m","type":"ordinal"},
    "y":{"field":"v","type":"quantitative","scale":{"domain":[0,1.2],"range":[823,684],"nice":false},"axis":{"orient":"right","offset":-116,"title":null,"format":".2%","values":[0,0.2,0.4,0.6,0.8,1,1.2],"labelFontSize":10,"labelPadding":2}},
    "color":{"datum":"累计同比（右轴）"}
   }}
 ],
 "resolve":{"scale":{"y":"independent"}}}
],
"resolve":{"scale":{"x":"independent","y":"independent","color":"independent"},"axis":{"x":"independent","y":"independent"},"legend":{"color":"independent"}}
}
